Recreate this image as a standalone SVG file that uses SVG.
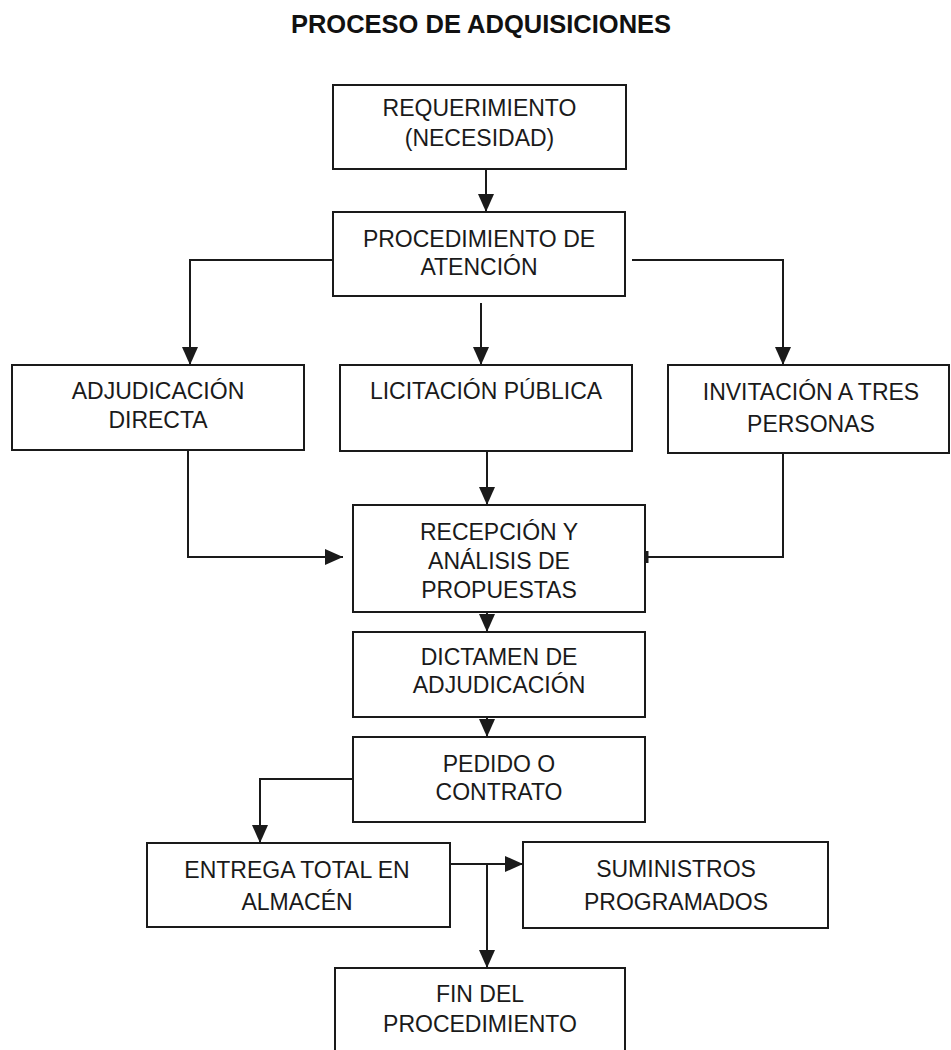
<svg xmlns="http://www.w3.org/2000/svg" width="951" height="1050" viewBox="0 0 951 1050">
<style>
.box{fill:#fff;stroke:#1a1a1a;stroke-width:2}
.t{font-family:"Liberation Sans",Arial,sans-serif;font-size:23px;fill:#1a1a1a;text-anchor:middle}
.title{font-family:"Liberation Sans",Arial,sans-serif;font-size:25.5px;font-weight:bold;fill:#111;text-anchor:middle}
.c{fill:none;stroke:#1a1a1a;stroke-width:2}
</style>
<defs>
<marker id="ah" markerUnits="userSpaceOnUse" markerWidth="18" markerHeight="16" refX="18" refY="8" orient="auto" viewBox="0 0 18 16">
<path d="M0,0 L18,8 L0,16 z" fill="#1a1a1a"/>
</marker>
</defs>
<rect width="951" height="1050" fill="#fff"/>
<text class="title" x="481" y="33">PROCESO DE ADQUISICIONES</text>
<g id="connectors">
<path class="c" d="M486,169 V212" marker-end="url(#ah)"/>
<path class="c" d="M333,260 H190 V365" marker-end="url(#ah)"/>
<path class="c" d="M481,303 V365" marker-end="url(#ah)"/>
<path class="c" d="M632,260 H783 V365" marker-end="url(#ah)"/>
<path class="c" d="M188,450 V557 H343" marker-end="url(#ah)"/>
<path class="c" d="M487,451 V505" marker-end="url(#ah)"/>
<path class="c" d="M783,453 V557 H645"/>
<path d="M647,551 V563" stroke="#1a1a1a" stroke-width="3"/>
<path class="c" d="M487,612 V632" marker-end="url(#ah)"/>
<path class="c" d="M487,717 V737" marker-end="url(#ah)"/>
<path class="c" d="M353,779 H260 V843" marker-end="url(#ah)"/>
<path class="c" d="M450,864 H523" marker-end="url(#ah)"/>
<path class="c" d="M487,864 V968" marker-end="url(#ah)"/>
</g>
<g id="requerimiento">
<rect class="box" x="333" y="85" width="293" height="84"/>
<text class="t" x="479.5" y="116">REQUERIMIENTO</text>
<text class="t" x="479.5" y="146">(NECESIDAD)</text>
</g>
<g id="procedimiento">
<rect class="box" x="333" y="212" width="292" height="84"/>
<text class="t" x="479" y="247">PROCEDIMIENTO DE</text>
<text class="t" x="479" y="275">ATENCIÓN</text>
</g>
<g id="adjudicacion">
<rect class="box" x="12" y="365" width="292" height="85"/>
<text class="t" x="158" y="399">ADJUDICACIÓN</text>
<text class="t" x="158" y="428">DIRECTA</text>
</g>
<g id="licitacion">
<rect class="box" x="340" y="365" width="292" height="86"/>
<text class="t" x="486" y="399">LICITACIÓN PÚBLICA</text>
</g>
<g id="invitacion">
<rect class="box" x="668" y="365" width="281" height="88"/>
<text class="t" x="811" y="400">INVITACIÓN A TRES</text>
<text class="t" x="811" y="432">PERSONAS</text>
</g>
<g id="recepcion">
<rect class="box" x="353" y="505" width="292" height="107"/>
<text class="t" x="499" y="540">RECEPCIÓN Y</text>
<text class="t" x="499" y="569">ANÁLISIS DE</text>
<text class="t" x="499" y="598">PROPUESTAS</text>
</g>
<g id="dictamen">
<rect class="box" x="353" y="632" width="292" height="85"/>
<text class="t" x="499" y="665">DICTAMEN DE</text>
<text class="t" x="499" y="693">ADJUDICACIÓN</text>
</g>
<g id="pedido">
<rect class="box" x="353" y="737" width="292" height="85"/>
<text class="t" x="499" y="772">PEDIDO O</text>
<text class="t" x="499" y="800">CONTRATO</text>
</g>
<g id="entrega">
<rect class="box" x="147" y="843" width="303" height="84"/>
<text class="t" x="297" y="878">ENTREGA TOTAL EN</text>
<text class="t" x="297" y="910">ALMACÉN</text>
</g>
<g id="suministros">
<rect class="box" x="523" y="842" width="305" height="86"/>
<text class="t" x="676" y="877">SUMINISTROS</text>
<text class="t" x="676" y="910">PROGRAMADOS</text>
</g>
<g id="fin">
<rect class="box" x="335" y="968" width="290" height="100"/>
<text class="t" x="480" y="1002">FIN DEL</text>
<text class="t" x="480" y="1032">PROCEDIMIENTO</text>
</g>
</svg>
